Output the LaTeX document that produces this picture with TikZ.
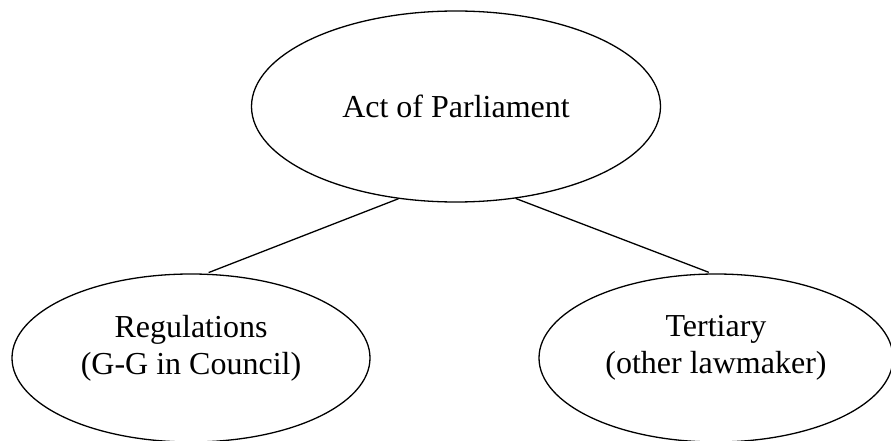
\documentclass[tikz,border=0pt]{standalone}
\usepackage{fontspec}
\setmainfont{Liberation Serif}
\usetikzlibrary{shapes.geometric}

\begin{document}
\begin{tikzpicture}[x=1pt, y=-1pt,
    blob/.style={draw, ellipse, line width=1.3pt, inner sep=0pt, align=center,
        font=\fontsize{32}{37}\selectfont}]
    \useasboundingbox (0,0) rectangle (891,441);

    \node[blob, minimum width=409pt, minimum height=191pt] (A) at (456,106.5) {Act of Parliament};

    \node[blob, minimum width=358pt, minimum height=168pt, text depth=27pt] (B) at (191,358) {Regulations\\(G-G in Council)};
    \node[blob, minimum width=354pt, minimum height=168pt, text depth=27pt] (C) at (716,358) {Tertiary\\(other lawmaker)};

    \draw[line width=1.3pt, shorten >=3pt] (A.238) -- (B.80);
    \draw[line width=1.3pt, shorten >=3pt] (A.303) -- (C.93);
\end{tikzpicture}
\end{document}
